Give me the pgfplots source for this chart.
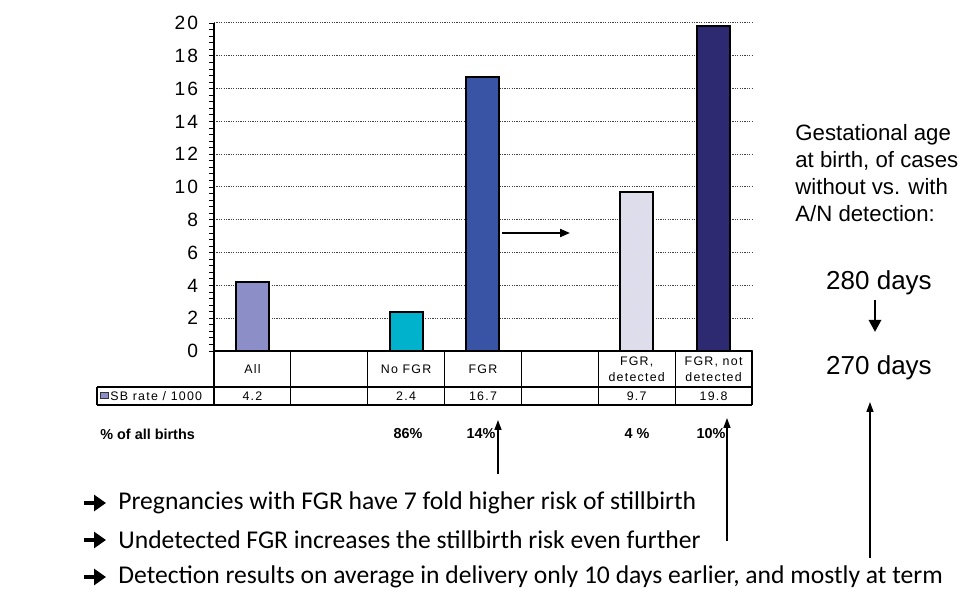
\documentclass[border=0pt]{standalone}
\usepackage{pgfplots}
\pgfplotsset{compat=1.18}
\usepackage{fontspec}
\setmainfont{Liberation Sans}
\newfontfamily\calibri{Carlito}
\newfontfamily\tabfont[LetterSpace=10]{Liberation Sans}
\usetikzlibrary{arrows.meta,patterns.meta}

\definecolor{allc}{RGB}{140,142,200}
\definecolor{tealc}{RGB}{0,178,204}
\definecolor{fgrc}{RGB}{58,84,165}
\definecolor{detc}{RGB}{221,221,239}
\definecolor{notdc}{RGB}{46,42,114}

\begin{document}
\begin{tikzpicture}[x=0.5pt,y=-0.5pt]
\useasboundingbox (0,0) rectangle (966,598);

\begin{scope}[x=1cm,y=1cm]
\begin{axis}[
    at={(107pt,-175.5pt)}, anchor=south west,
    scale only axis,
    width=269pt, height=164pt,
    xmin=-0.5, xmax=6.5,
    ymin=0, ymax=20,
    ytick={0,2,...,20},
    minor y tick num=4,
    xtick=\empty,
    axis x line*=bottom,
    axis y line*=left,
    axis line style={-, line width=0.6pt},
    tick align=outside,
    major tick length=2.5pt,
    minor tick length=2.5pt,
    tick style={line width=0.4pt, black},
    ymajorgrids,
    major grid style={black!75, line width=0.5pt, dash pattern=on 0.6pt off 0.6pt},
    yticklabel style={font=\tabfont\fontsize{9.6}{11}\selectfont, xshift=-2pt},
    /pgf/number format/assume math mode=true,
    ybar, bar width=16.5pt, bar shift=0pt,
    every axis plot/.append style={draw=black, line width=1pt},
  ]
  \addplot[fill=allc] coordinates {(0,4.2)};
  \addplot[fill=tealc] coordinates {(2,2.4)};
  \addplot[fill=fgrc] coordinates {(3,16.7)};
  \addplot[fill=detc, postaction={pattern={Lines[angle=45,distance=1.6pt,line width=0.3pt]}, pattern color=black!12}] coordinates {(5,9.7)};
  \addplot[fill=notdc] coordinates {(6,19.8)};
\end{axis}
\end{scope}

% arrow inside the plot
\draw[line width=1pt, -{Triangle[length=5pt,width=4pt]}] (502,233) -- (570,233);

% data table
\draw[line width=0.6pt]
  (214,351) -- (214,405)
  (97,387) -- (752,387)
  (97,405) -- (752,405)
  (97,387) -- (97,405)
  (752,351) -- (752,405);
\foreach \k in {1,...,6}{
  \draw[line width=0.6pt] ({214+76.857*\k},351) -- ({214+76.857*\k},405);
}
\begin{scope}[font=\tabfont\fontsize{6.2}{8}\selectfont, inner sep=0pt]
\node at (252.4,369) {All};
\node at (406.1,369) {No FGR};
\node at (483.0,369) {FGR};
\node[align=center] at (636.7,369) {FGR,\\detected};
\node[align=center] at (713.6,369) {FGR, not\\detected};
\node at (252.4,396) {4.2};
\node at (406.1,396) {2.4};
\node at (483.0,396) {16.7};
\node at (636.7,396) {9.7};
\node at (713.6,396) {19.8};
\draw[fill=allc, draw=black!80, line width=0.5pt] (100,393) rectangle (108,399);
\node[anchor=west] at (110,396) {SB rate / 1000};
\end{scope}

\begin{scope}[font=\bfseries\fontsize{7.2}{8.5}\selectfont, inner sep=0pt]
\node[anchor=west] at (100,434) {\% of all births};
\node at (408,434) {86\%};
\node at (481,434) {14\%};
\node at (637,434) {4 \%};
\node at (711,434) {10\%};
\end{scope}

% vertical arrows
\draw[line width=0.7pt, -{Triangle[length=5pt,width=3.5pt]}] (498,474) -- (498,420);
\draw[line width=0.7pt, -{Triangle[length=5pt,width=3.5pt]}] (727,541) -- (727,418);
\draw[line width=0.7pt, -{Triangle[length=5pt,width=3.5pt]}] (870,558) -- (870,402);

% right-hand text
\begin{scope}[font=\fontsize{11.1}{13}\selectfont, inner sep=0pt, anchor=base west]
\node at (795,141) {Gestational age};
\node at (795,168) {at birth, of cases};
\node at (795,195) {without vs. with};
\node at (795,222) {A/N detection:};
\end{scope}
\node[font=\fontsize{13}{15}\selectfont, inner sep=0pt, anchor=base] at (879,290) {280 days};
\draw[line width=1.4pt, -{Triangle[length=6pt,width=6pt]}] (875,300) -- (875,332);
\node[font=\fontsize{13}{15}\selectfont, inner sep=0pt, anchor=base] at (879,375) {270 days};

% bottom bullet lines
\begin{scope}[font=\calibri\fontsize{12.8}{15}\selectfont, inner sep=0pt]
\foreach \yy/\txt in {503/{Pregnancies with FGR have 7 fold higher risk of stillbirth},
                      540/{Undetected FGR increases the stillbirth risk even further},
                      577/{Detection results on average in delivery only 10 days earlier, and mostly at term}}{
  \draw[line width=2pt, -{Triangle[length=6pt,width=8pt]}] (84,\yy) -- (106,\yy);
  \node[anchor=west] at (118,\yy) {\txt};
}
\end{scope}
\end{tikzpicture}
\end{document}
